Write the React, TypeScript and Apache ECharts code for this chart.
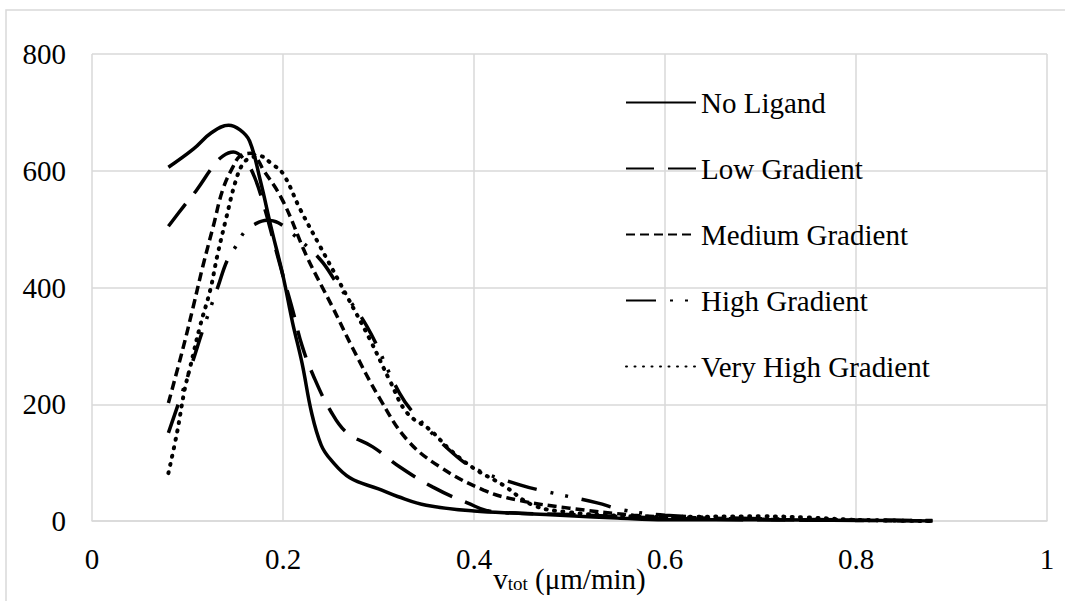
import React, { useEffect, useRef } from "react";
import * as echarts from "echarts";

const FONT = '"Liberation Serif", "Times New Roman", serif';

const seriesNames = ["No Ligand", "Low Gradient", "Medium Gradient", "High Gradient", "Very High Gradient"];

const noLigandX = [0.08, 0.106, 0.125, 0.143, 0.155, 0.165, 0.176, 0.188, 0.2, 0.21, 0.22, 0.23, 0.24, 0.25, 0.27, 0.3, 0.32, 0.35, 0.4, 0.45, 0.5, 0.55, 0.6, 0.7, 0.8, 0.88];
const noLigandY = [606, 637, 665, 678, 670, 651, 585, 500, 420, 340, 270, 185, 130, 105, 74, 55, 42, 27, 17, 13, 9, 5, 2, 2, 1, 0];

const lowX = [0.08, 0.096, 0.11, 0.127, 0.137, 0.148, 0.16, 0.17, 0.18, 0.19, 0.2, 0.21, 0.22, 0.232, 0.25, 0.267, 0.294, 0.322, 0.357, 0.393, 0.42, 0.5, 0.6, 0.7, 0.88];
const lowY = [505, 539, 568, 608, 625, 632, 618, 590, 540, 480, 420, 362, 300, 248, 188, 151, 127, 93, 58, 31, 16, 11, 5, 2, 1];

const mediumX = [0.08, 0.095, 0.106, 0.116, 0.127, 0.137, 0.148, 0.155, 0.166, 0.18, 0.2, 0.225, 0.252, 0.273, 0.302, 0.33, 0.364, 0.41, 0.445, 0.5, 0.567, 0.6, 0.7, 0.8, 0.88];
const mediumY = [202, 294, 367, 436, 505, 568, 608, 625, 630, 600, 548, 453, 366, 296, 208, 139, 93, 53, 36, 22, 10, 7, 3, 1, 0];

const highX = [0.08, 0.106, 0.115, 0.132, 0.142, 0.152, 0.16, 0.17, 0.183, 0.195, 0.21, 0.239, 0.256, 0.288, 0.322, 0.34, 0.378, 0.403, 0.448, 0.477, 0.529, 0.556, 0.6, 0.7, 0.8, 0.88];
const highY = [151, 276, 322, 402, 448, 474, 496, 508, 515, 511, 492, 448, 408, 333, 219, 179, 116, 88, 62, 50, 31, 19, 10, 4, 2, 0];

const veryHighX = [0.08, 0.089, 0.097, 0.103, 0.113, 0.124, 0.131, 0.141, 0.15, 0.158, 0.166, 0.176, 0.188, 0.2, 0.218, 0.239, 0.267, 0.291, 0.312, 0.33, 0.354, 0.375, 0.4, 0.43, 0.462, 0.5, 0.55, 0.6, 0.7, 0.75, 0.8, 0.88];
const veryHighY = [82, 151, 225, 265, 333, 397, 453, 522, 580, 612, 622, 625, 612, 595, 534, 470, 385, 311, 240, 185, 156, 122, 90, 62, 27, 15, 9, 7, 8, 6, 2, 0];

const xTicks = [0, 0.2, 0.4, 0.6, 0.8, 1];
const yTicks = [0, 200, 400, 600, 800];

const seriesX = [noLigandX, lowX, mediumX, highX, veryHighX];
const seriesY = [noLigandY, lowY, mediumY, highY, veryHighY];

const dashTypes: any[] = ["solid", [28, 14], [9, 5], [30, 14, 3, 12, 3, 14], [1, 7.5]];
const caps: any[] = ["butt", "butt", "butt", "butt", "round"];
const widths = [3.5, 3.5, 3.5, 3.5, 4];

export default function App() {
  const ref = useRef<HTMLDivElement>(null);
  useEffect(() => {
    document.body.style.margin = "0";
    const chart = echarts.init(ref.current!, undefined, { renderer: "svg" });
    const gridColor = "#d9d9d9";
    chart.setOption({
      animation: false,
      backgroundColor: "#ffffff",
      textStyle: { fontFamily: FONT },
      grid: { left: 92, top: 54, right: 18, bottom: 80, containLabel: false, outerBoundsMode: "none" },
      graphic: [
        {
          type: "rect",
          shape: { x: 6, y: 10, width: 1070, height: 610 },
          style: { fill: "none", stroke: gridColor, lineWidth: 1.5 },
          silent: true,
        },
      ],
      legend: {
        orient: "vertical",
        left: 620,
        top: 83,
        itemWidth: 70,
        itemHeight: 14,
        itemGap: 37,
        data: seriesNames,
        itemStyle: { opacity: 0 },
        textStyle: { fontFamily: FONT, fontSize: 29, color: "#000", lineHeight: 29 },
      },
      xAxis: {
        type: "value",
        min: 0,
        max: 1,
        interval: 0.2,
        axisLine: { show: true, lineStyle: { color: gridColor, width: 1.5 } },
        axisTick: { show: false },
        splitLine: { show: true, lineStyle: { color: gridColor, width: 1.5 } },
        axisLabel: {
          fontFamily: FONT,
          fontSize: 29,
          color: "#000",
          margin: 23,
          formatter: (v: number) => (xTicks.includes(Math.round(v * 10) / 10) ? String(Math.round(v * 10) / 10) : ""),
        },
        name: "{a|v}{b|tot}{a| (μm/min)}",
        nameLocation: "middle",
        nameGap: 43,
        nameMoveOverlap: false,
        nameTextStyle: {
          rich: {
            a: { fontFamily: FONT, fontSize: 29, color: "#000", lineHeight: 29, verticalAlign: "top" },
            b: { fontFamily: FONT, fontSize: 19, color: "#000", lineHeight: 19, verticalAlign: "bottom", padding: [15.5, 0, 0, 0] },
          },
        },
      },
      yAxis: {
        type: "value",
        min: 0,
        max: 800,
        interval: 200,
        axisLine: { show: false },
        axisTick: { show: false },
        splitLine: { show: true, lineStyle: { color: gridColor, width: 1.5 } },
        axisLabel: {
          fontFamily: FONT,
          fontSize: 29,
          color: "#000",
          margin: 26,
          formatter: (v: number) => (yTicks.includes(v) ? String(v) : ""),
        },
      },
      series: seriesNames.map((name, i) => ({
        name,
        type: "line",
        smooth: 0.4,
        symbol: "none",
        color: "#000",
        lineStyle: { color: "#000", width: widths[i], type: dashTypes[i], cap: caps[i] },
        data: seriesX[i].map((x, j) => [x, seriesY[i][j]]),
      })),
    });
    return () => chart.dispose();
  }, []);
  return <div ref={ref} style={{ width: 1065, height: 601 }} />;
}
